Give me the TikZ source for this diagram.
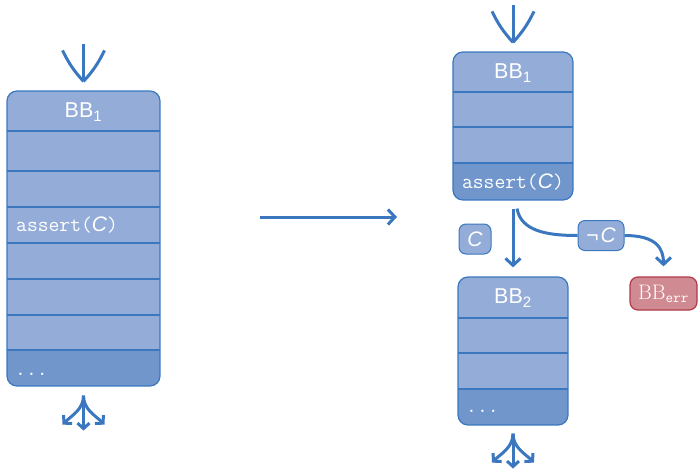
\documentclass[tikz,border=0pt]{standalone}
\usepackage{fontspec}
\setsansfont{Liberation Sans}
\usetikzlibrary{arrows.meta,fit}

\definecolor{cellfill}{HTML}{94ACD8}
\definecolor{lastfill}{HTML}{7096CC}
\definecolor{edgeblue}{HTML}{3A77BF}
\definecolor{errfill}{HTML}{D08A92}
\definecolor{erredge}{HTML}{B03A48}

\tikzset{
  blockframe/.style={draw=edgeblue, line width=1.2pt, rounded corners=10pt, inner sep=0pt},
  rowline/.style={draw=edgeblue, line width=1.2pt},
  hdr/.style={text=white, font=\sffamily\fontsize{21.5}{24}\selectfont, inner sep=0pt},
  code/.style={text=white, font=\ttfamily\fontsize{21}{24}\selectfont, inner sep=0pt},
  tipb/.tip={Straight Barb[length=7pt,width=15pt,line width=3pt]},
  tips/.tip={Straight Barb[length=5.5pt,width=12pt,line width=3pt]},
  flow/.style={draw=edgeblue, line width=3pt, -tipb},
  fanflow/.style={draw=edgeblue, line width=3pt, -tips},
  wire/.style={draw=edgeblue, line width=3pt},
  bigarm/.style={draw=edgeblue, line width=3pt},
  labelbox/.style={draw=edgeblue, fill=cellfill, line width=1pt, rounded corners=7pt,
    minimum height=30pt, inner sep=3pt, text=white, font=\sffamily\fontsize{21}{24}\selectfont},
  errbox/.style={draw=erredge, fill=errfill, line width=1.2pt, rounded corners=8pt,
    minimum width=67pt, minimum height=33pt, inner sep=0pt, text=white,
    font=\rmfamily\fontsize{21}{24}\selectfont},
}

% name, left, top, right, bottom, top of the shaded last row
\newcommand\codeblock[6]{%
  \begin{scope}
    \clip[rounded corners=10pt] (#2,#3) rectangle (#4,#5);
    \fill[cellfill] (#2,#3) rectangle (#4,#5);
    \fill[lastfill] (#2,#6) rectangle (#4,#5);
  \end{scope}
  \node[blockframe, fit={(#2,#3) (#4,#5)}] (#1) {};
}

% incoming edge: stem plus a wide open head ending above the block
\newcommand\entryarrow[2]{% block name, gap
  \coordinate (#1-tip) at ([yshift=#2]#1.north);
  \coordinate (#1-src) at ([yshift=37pt]#1-tip);
  \draw[bigarm] (#1-src) -- (#1-tip);
  \draw[bigarm] ([xshift=-21pt,yshift=31pt]#1-tip) to[bend right=8] (#1-tip);
  \draw[bigarm] ([xshift=21pt,yshift=31pt]#1-tip) to[bend left=8] (#1-tip);
}

% outgoing edges: a stem splitting into three arrows
\newcommand\exitfan[2]{% block name, gap
  \coordinate (#1-root) at ([yshift=-#2]#1.south);
  \coordinate (#1-mid) at ([yshift=-35pt]#1-root);
  \coordinate (#1-lft) at ([xshift=-21pt,yshift=-29pt]#1-root);
  \coordinate (#1-rgt) at ([xshift=21pt,yshift=-29pt]#1-root);
  \draw[fanflow] (#1-root) -- (#1-mid);
  \draw[fanflow] (#1-root) .. controls +(0,14) and +(9,-9) .. (#1-lft);
  \draw[fanflow] (#1-root) .. controls +(0,14) and +(-9,-9) .. (#1-rgt);
}

\begin{document}
\begin{tikzpicture}[x=1pt,y=-1pt]
  \useasboundingbox (0,0) rectangle (698,471);

  % ---- original block ----
  \codeblock{bbA}{7}{91}{160}{386}{350}
  \foreach \r in {131,171,207,243,279,315,350}
    \draw[rowline] (7,\r) -- (160,\r);
  \node[hdr] (bbAhead) at (83.5,112) {BB\textsubscript{1}};
  \node[code, anchor=west] (bbAassert) at (16,225) {assert(\textsf{\itshape C})};
  \node[code, anchor=base west] (bbAdots) at (15,375) {...};
  \entryarrow{bbA}{9pt}
  \exitfan{bbA}{9pt}

  % ---- transformation ----
  \coordinate (tfrom) at (260,217);
  \coordinate (tto) at (397,217);
  \draw[flow] (tfrom) -- (tto);

  % ---- split blocks ----
  \codeblock{bbB}{453}{52}{573}{200}{163}
  \foreach \r in {92,127,163}
    \draw[rowline] (453,\r) -- (573,\r);
  \node[hdr] (bbBhead) at (513,73) {BB\textsubscript{1}};
  \node[code] (bbBassert) at (513,182) {assert(\textsf{\itshape C})};
  \entryarrow{bbB}{9pt}

  \codeblock{bbC}{458}{277}{568}{425}{389}
  \foreach \r in {318,353,389}
    \draw[rowline] (458,\r) -- (568,\r);
  \node[hdr] (bbChead) at (513,298) {BB\textsubscript{2}};
  \node[code, anchor=base west] (bbCdots) at (466,412) {...};
  \exitfan{bbC}{8pt}

  \node[errbox] (err) at (663.5,293.5) {BB\textsubscript{\ttfamily err}};

  \node[labelbox, minimum width=32pt] (cond) at (475,239) {\itshape C};
  \node[labelbox, minimum width=46pt] (ncond) at (601,235.5) {¬\kern2pt\itshape C};

  \draw[flow] ([yshift=-8pt]bbB.south) -- ([yshift=9pt]bbC.north);
  \draw[wire] ([xshift=4pt,yshift=-8pt]bbB.south) .. controls +(4,22) and +(-32,0) .. (ncond.west);
  \draw[flow] (ncond.east) .. controls +(32,0) and +(0,-18) .. ([yshift=10pt]err.north);
\end{tikzpicture}
\end{document}
